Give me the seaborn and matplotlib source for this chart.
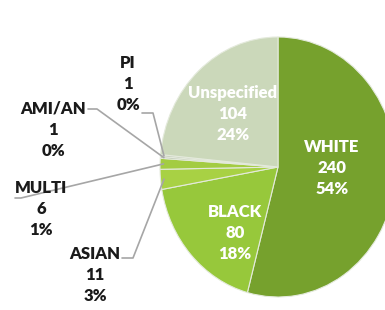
import numpy as np
import matplotlib
matplotlib.use('Agg')
import matplotlib.pyplot as plt
import seaborn as sns

sns.set_theme(style='white')
plt.rcParams['font.family'] = ['Lato', 'DejaVu Sans']

# data
groups = ['WHITE', 'BLACK', 'ASIAN', 'MULTI', 'AMI/AN', 'PI', 'Unspecified']
counts = [240, 80, 11, 6, 1, 1, 104]
pcts = ['54%', '18%', '3%', '1%', '0%', '0%', '24%']
colors = ['#76a12d', '#97c83b', '#a8d144', '#a3cc42', '#b4bcaa', '#bcc4b2', '#cbd8ba']

# pie geometry in pixels (image is 385x310)
CX, CY, RX, RY = 278, 167, 118, 130

def px(x, y):
    return (x - CX) / RX, (CY - y) / RY

fig = plt.figure(figsize=(3.85, 3.1), dpi=100)
ax = fig.add_axes([0, 0, 1, 1])
wedges, _ = ax.pie(counts, colors=colors, startangle=90, counterclock=False,
                   wedgeprops=dict(edgecolor='#e4eadc', linewidth=0.8))
ax.set_aspect('auto')
ax.set_xlim(px(0, 0)[0], px(385, 0)[0])
ax.set_ylim(px(0, 310)[1], px(0, 0)[1])
ax.axis('off')

# labels inside the pie
inside = {'WHITE': (332, 168), 'BLACK': (235, 233), 'Unspecified': (233, 114)}
for i, g in enumerate(groups):
    if g in inside:
        x, y = px(*inside[g])
        ax.text(x, y, f'{g}\n{counts[i]}\n{pcts[i]}', ha='center', va='center',
                color='white', fontsize=12, fontweight='heavy', linespacing=1.42)

# labels outside with leader lines
outside = {
    'PI': ((128, 84), [(142, 113), (153, 113)]),
    'AMI/AN': ((53, 130), [(88, 109), (97, 109)]),
    'MULTI': ((41, 209), [(15, 198), (21, 198)]),
    'ASIAN': ((95, 275), [(122, 258), (133, 258)]),
}
for i, g in enumerate(groups):
    if g in outside:
        (tx, ty), pts = outside[g]
        x, y = px(tx, ty)
        ax.text(x, y, f'{g}\n{counts[i]}\n{pcts[i]}', ha='center', va='center',
                color='#1a1a1a', fontsize=12, fontweight='heavy', linespacing=1.42)
        w = wedges[i]
        mid = np.deg2rad((w.theta1 + w.theta2) / 2)
        end = (0.97 * np.cos(mid), 0.97 * np.sin(mid))
        line = [px(*p) for p in pts] + [end]
        ax.plot([p[0] for p in line], [p[1] for p in line], color='#a6a6a6', lw=1.2)

fig.savefig('out.png', dpi=100)
